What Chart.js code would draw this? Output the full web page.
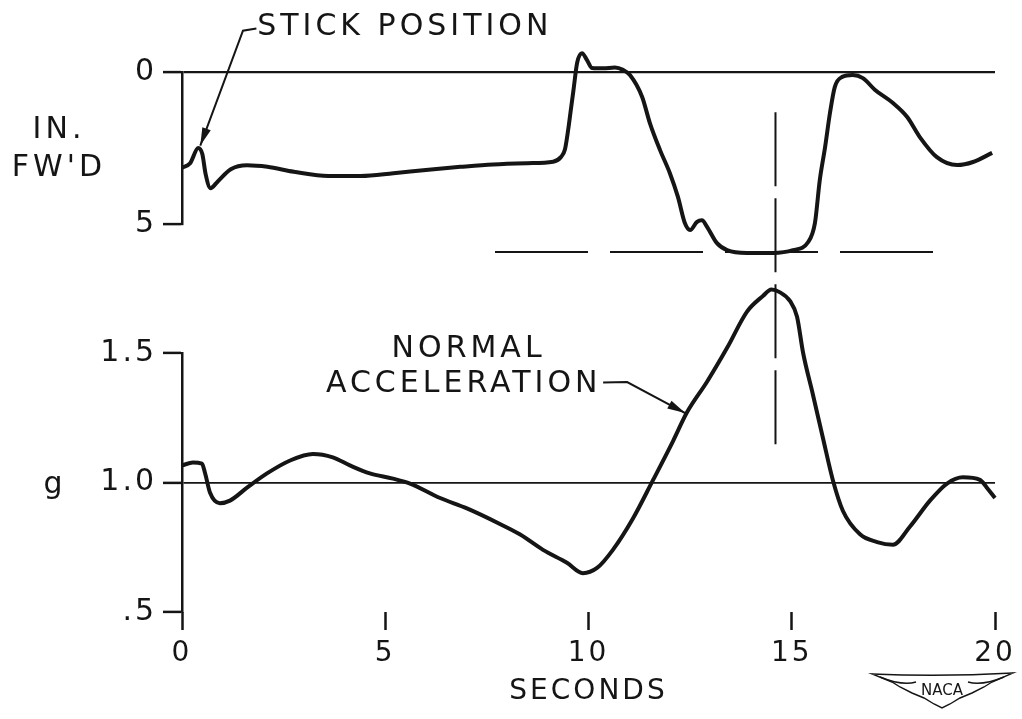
<!DOCTYPE html>
<html>
<head>
<meta charset="utf-8">
<script src="https://cdn.jsdelivr.net/npm/chart.js@4.4.1/dist/chart.umd.min.js"></script>
<style>
  html, body { margin: 0; padding: 0; background: #ffffff; }
  #wrap { width: 1022px; height: 719px; }
</style>
</head>
<body>
<div id="wrap"><canvas id="c" width="1022" height="719"></canvas></div>
<script>
// ---------- DATA ----------
// Stick position (inches forward) vs time (s)
const STICK_TIME = [0, 0.2, 0.4, 0.5, 0.58, 0.7, 0.88, 1.2, 1.6, 2.1, 2.75, 3.6, 4.4, 5.2, 6.0, 6.85, 7.65, 8.5, 9.13, 9.32, 9.42, 9.5, 9.56, 9.63, 9.72, 9.84, 9.96, 10.09, 10.36, 10.65, 10.85, 11.02, 11.32, 11.51, 11.76, 12.0, 12.2, 12.37, 12.5, 12.67, 12.79, 12.92, 13.16, 13.41, 13.9, 14.54, 15.03, 15.4, 15.57, 15.69, 15.82, 15.94, 16.06, 16.24, 16.5, 16.75, 17.05, 17.49, 17.84, 18.15, 18.57, 19.07, 19.46, 19.93];
const STICK_POS  = [3.15, 3.0, 2.5, 2.7, 3.35, 3.82, 3.6, 3.2, 3.07, 3.12, 3.28, 3.42, 3.42, 3.33, 3.22, 3.12, 3.04, 3.0, 2.95, 2.8, 2.55, 1.9, 1.3, 0.6, -0.3, -0.62, -0.4, -0.13, -0.12, -0.15, -0.07, 0.1, 0.82, 1.68, 2.57, 3.32, 4.11, 4.97, 5.2, 4.93, 4.88, 5.1, 5.63, 5.86, 5.95, 5.95, 5.86, 5.6, 4.97, 3.55, 2.47, 1.35, 0.49, 0.16, 0.1, 0.2, 0.59, 1.02, 1.48, 2.14, 2.8, 3.06, 2.96, 2.66];

// Normal acceleration (g) vs time (s)
const ACCEL_TIME = [0, 0.27, 0.49, 0.57, 0.69, 0.93, 1.18, 1.6, 2.09, 2.66, 3.22, 3.71, 4.13, 4.62, 5.19, 5.61, 6.35, 7.01, 7.82, 8.31, 8.88, 9.47, 9.86, 10.21, 10.6, 11.09, 11.59, 12.08, 12.42, 12.92, 13.41, 13.9, 14.29, 14.5, 14.7, 14.96, 15.13, 15.28, 15.52, 15.77, 16.01, 16.26, 16.68, 17.1, 17.49, 17.91, 18.4, 18.82, 19.21, 19.63, 19.8, 20.0];
const ACCEL_G    = [1.066, 1.077, 1.073, 1.035, 0.96, 0.92, 0.93, 0.98, 1.035, 1.085, 1.11, 1.097, 1.066, 1.035, 1.015, 0.996, 0.94, 0.90, 0.84, 0.80, 0.74, 0.69, 0.65, 0.67, 0.74, 0.86, 1.01, 1.16, 1.27, 1.39, 1.52, 1.66, 1.72, 1.745, 1.735, 1.70, 1.64, 1.50, 1.34, 1.17, 1.01, 0.89, 0.80, 0.77, 0.76, 0.83, 0.93, 0.996, 1.02, 1.01, 0.98, 0.94];

// Reference (dashed) lines
const STICK_LIMIT_X = [7.7, 18.65];   // horizontal dashed line extent (s)
const STICK_LIMIT_Y = [5.92, 5.92];   // in.
const PEAK_MARK_X   = [14.6, 14.6];   // vertical dashed line time (s)
const PEAK_MARK_G   = [2.43, 1.14];   // vertical extent expressed in g units

// Tick labels
const X_TICKS = [0, 5, 10, 15, 20];
const STICK_TICKS = [0, 5];
const STICK_TICK_LABELS = ['0', '5'];
const G_TICKS = [0.5, 1.0, 1.5];
const G_TICK_LABELS = ['.5', '1.0', '1.5'];

// Text
const STICK_LABEL = 'STICK POSITION';
const ACCEL_LABEL = ['NORMAL', 'ACCELERATION'];
const STICK_UNITS = ['IN.', "FW'D"];
const G_UNITS = 'g';
const X_TITLE = 'SECONDS';

// ---------- CHART ----------
const INK = '#151515';
const FONT = '"DejaVu Sans", "Noto Sans", sans-serif';

const zip = (xs, ys) => xs.map((x, i) => ({x: x, y: ys[i]}));

function arrow(ctx, pts, head, half) {
  ctx.beginPath();
  ctx.moveTo(pts[0][0], pts[0][1]);
  for (let i = 1; i < pts.length; i++) ctx.lineTo(pts[i][0], pts[i][1]);
  ctx.stroke();
  const a = pts[pts.length - 2], b = pts[pts.length - 1];
  const dx = b[0] - a[0], dy = b[1] - a[1];
  const L = Math.hypot(dx, dy), ux = dx / L, uy = dy / L;
  const bx = b[0] - ux * head, by = b[1] - uy * head;
  ctx.beginPath();
  ctx.moveTo(b[0], b[1]);
  ctx.lineTo(bx - uy * half, by + ux * half);
  ctx.lineTo(bx + uy * half, by - ux * half);
  ctx.closePath();
  ctx.fill();
}

const annotate = {
  id: 'annotate',
  beforeDraw(chart) { chart.ctx.letterSpacing = '3px'; },
  afterDraw(chart) {
    const {ctx, scales} = chart;
    const x = scales.x, ys = scales.yStick, yg = scales.yG;
    ctx.save();
    ctx.fillStyle = INK;
    ctx.strokeStyle = INK;
    ctx.lineWidth = 2;
    ctx.textBaseline = 'middle';
    ctx.font = '30px ' + FONT;
    ctx.letterSpacing = '4px';

    // unit titles on the left
    ctx.textAlign = 'center';
    const mid = ys.getPixelForValue(2.5);
    ctx.fillText(STICK_UNITS[0], 59, mid - 18);
    ctx.fillText(STICK_UNITS[1], 59, mid + 20);
    ctx.fillText(G_UNITS, 55, yg.getPixelForValue(1.0) + 3);

    // STICK POSITION label + leader
    ctx.textAlign = 'left';
    ctx.fillText(STICK_LABEL, x.getPixelForValue(1.85), ys.getPixelForValue(-1.48));
    arrow(ctx, [
      [x.getPixelForValue(1.83), ys.getPixelForValue(-1.43)],
      [x.getPixelForValue(1.5), ys.getPixelForValue(-1.36)],
      [x.getPixelForValue(0.45), ys.getPixelForValue(2.42)]
    ], 18, 4.5);

    // NORMAL ACCELERATION label + leader
    ctx.textAlign = 'center';
    ctx.fillText(ACCEL_LABEL[0], x.getPixelForValue(7.05), yg.getPixelForValue(1.514));
    ctx.fillText(ACCEL_LABEL[1], x.getPixelForValue(6.93), yg.getPixelForValue(1.378));
    arrow(ctx, [
      [x.getPixelForValue(10.36), yg.getPixelForValue(1.386)],
      [x.getPixelForValue(10.95), yg.getPixelForValue(1.388)],
      [x.getPixelForValue(12.38), yg.getPixelForValue(1.268)]
    ], 18, 4.5);

    // NACA wings emblem
    const cx = 942, cy = 690;
    ctx.lineWidth = 1.4;
    ctx.beginPath();
    ctx.moveTo(cx - 70, cy - 16);
    ctx.quadraticCurveTo(cx, cy - 13, cx + 71, cy - 17);
    ctx.lineTo(cx + 50, cy - 8);
    ctx.lineTo(cx + 42, cy - 3);
    ctx.lineTo(cx + 30, cy + 3);
    ctx.lineTo(cx + 18, cy + 8);
    ctx.lineTo(cx + 8, cy + 14);
    ctx.lineTo(cx, cy + 18);
    ctx.lineTo(cx - 8, cy + 14);
    ctx.lineTo(cx - 18, cy + 8);
    ctx.lineTo(cx - 30, cy + 3);
    ctx.lineTo(cx - 42, cy - 3);
    ctx.lineTo(cx - 50, cy - 8);
    ctx.closePath();
    ctx.stroke();
    ctx.beginPath();
    ctx.moveTo(cx - 62, cy - 13);
    ctx.quadraticCurveTo(cx - 40, cy - 4, cx - 26, cy - 8);
    ctx.moveTo(cx + 62, cy - 13);
    ctx.quadraticCurveTo(cx + 40, cy - 4, cx + 26, cy - 8);
    ctx.stroke();
    ctx.letterSpacing = '0px';
    ctx.font = '15px ' + FONT;
    ctx.fillText('NACA', cx, cy + 1);
    ctx.restore();
  }
};

const tickFont = {family: FONT, size: 28};

new Chart(document.getElementById('c'), {
  type: 'line',
  data: {
    datasets: [
      {
        label: 'Stick position',
        data: zip(STICK_TIME, STICK_POS),
        yAxisID: 'yStick',
        borderColor: INK, borderWidth: 4, pointRadius: 0,
        cubicInterpolationMode: 'monotone', clip: false, fill: false
      },
      {
        label: 'Normal acceleration',
        data: zip(ACCEL_TIME, ACCEL_G),
        yAxisID: 'yG',
        borderColor: INK, borderWidth: 4, pointRadius: 0,
        cubicInterpolationMode: 'monotone', clip: false, fill: false
      },
      {
        label: 'Stick limit',
        data: zip(STICK_LIMIT_X, STICK_LIMIT_Y),
        yAxisID: 'yStick',
        borderColor: INK, borderWidth: 2, borderDash: [93, 22], pointRadius: 0,
        tension: 0, clip: false, fill: false
      },
      {
        label: 'Peak marker',
        data: zip(PEAK_MARK_X, PEAK_MARK_G),
        yAxisID: 'yG',
        borderColor: INK, borderWidth: 2, borderDash: [74, 12], pointRadius: 0,
        tension: 0, clip: false, fill: false
      }
    ]
  },
  options: {
    responsive: false,
    animation: false,
    devicePixelRatio: 1,
    layout: {padding: {top: 72, right: 27, left: 0, bottom: 0}},
    plugins: {legend: {display: false}, tooltip: {enabled: false}},
    scales: {
      x: {
        type: 'linear', position: 'bottom', min: 0, max: 20,
        afterBuildTicks: (s) => { s.ticks = X_TICKS.map(v => ({value: v})); },
        afterFit: (s) => { s.height = 107; },
        grid: {display: true, drawOnChartArea: false, drawTicks: true, tickLength: 18, tickWidth: 2.5, tickColor: INK},
        border: {display: false},
        ticks: {color: INK, font: tickFont, padding: 7, maxRotation: 0, autoSkip: false, callback: (v) => String(v)},
        title: {display: true, text: X_TITLE, color: INK, font: {family: FONT, size: 28}, padding: {top: 0, bottom: 10}}
      },
      yStick: {
        type: 'linear', position: 'left', stack: 'left', stackWeight: 152, weight: 3,
        reverse: true, min: 0, max: 5,
        afterBuildTicks: (s) => { s.ticks = STICK_TICKS.map(v => ({value: v})); },
        afterFit: (s) => { s.width = 182; },
        grid: {display: true, drawOnChartArea: true, drawTicks: true, tickLength: 19,
               color: (c) => (c.tick && c.tick.value === 0) ? INK : 'rgba(0,0,0,0)',
               lineWidth: 2.2, tickColor: INK, tickWidth: 2.5},
        border: {display: true, color: INK, width: 2.5},
        ticks: {color: INK, font: {family: FONT, size: 30}, padding: 6,
                callback: (v) => STICK_TICK_LABELS[STICK_TICKS.indexOf(v)]}
      },
      spacer: {
        type: 'linear', position: 'left', stack: 'left', stackWeight: 129, weight: 2,
        afterFit: (s) => { s.width = 182; },
        grid: {display: false}, border: {display: false}, ticks: {display: false}
      },
      yG: {
        type: 'linear', position: 'left', stack: 'left', stackWeight: 259, weight: 1,
        min: 0.5, max: 1.5,
        afterBuildTicks: (s) => { s.ticks = G_TICKS.map(v => ({value: v})); },
        afterFit: (s) => { s.width = 182; },
        grid: {display: true, drawOnChartArea: true, drawTicks: true, tickLength: 19,
               color: (c) => (c.tick && Math.abs(c.tick.value - 1) < 1e-9) ? INK : 'rgba(0,0,0,0)',
               lineWidth: 1.8, tickColor: INK, tickWidth: 2.5},
        border: {display: true, color: INK, width: 2.5},
        ticks: {color: INK, font: {family: FONT, size: 30}, padding: 6,
                callback: (v) => G_TICK_LABELS[G_TICKS.findIndex(t => Math.abs(t - v) < 1e-9)]}
      }
    }
  },
  plugins: [annotate]
});
</script>
</body>
</html>
